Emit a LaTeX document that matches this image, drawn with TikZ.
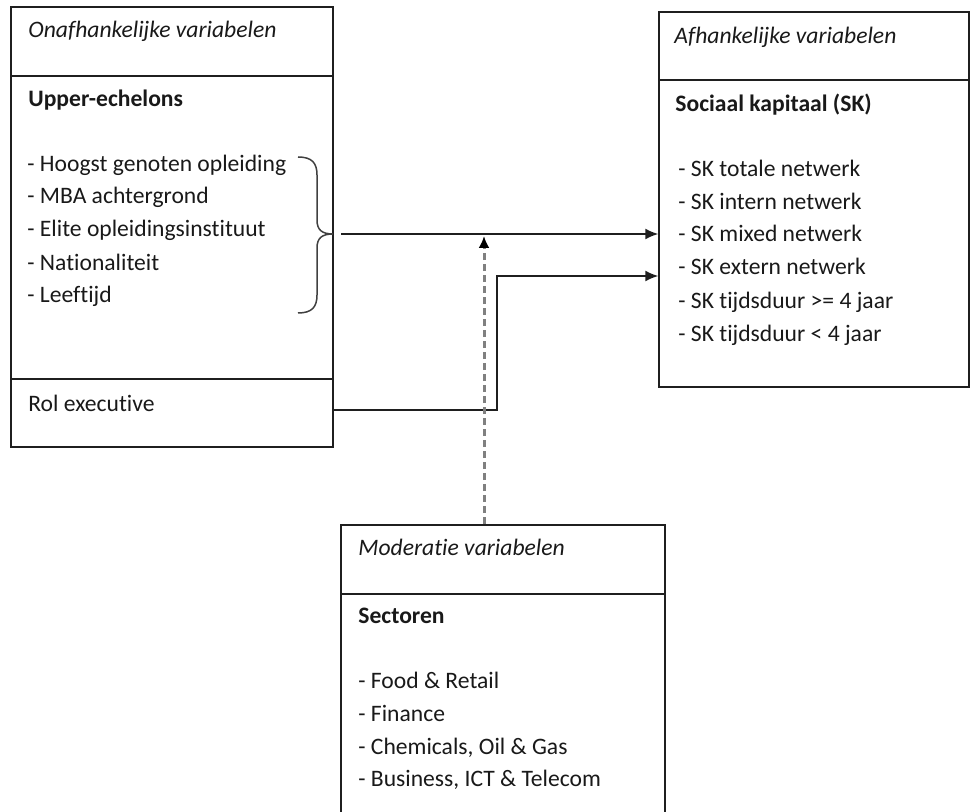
\documentclass[tikz,border=0pt]{standalone}
\usepackage{fontspec}
\setmainfont[Ligatures=NoCommon]{Carlito}
\usetikzlibrary{arrows.meta}

\begin{document}
\begin{tikzpicture}[x=0.5pt,y=-0.5pt,>={Latex[length=6.5pt,width=5.5pt]},
  font=\fontsize{11.8}{14}\selectfont,
  box/.style={draw=black!88,line width=0.75pt,rectangle,inner sep=0pt},
  rule/.style={draw=black!88,line width=0.75pt},
  txt/.style={anchor=base west,inner sep=0pt,text=black!90},
  link/.style={->,draw=black!88,line width=0.75pt}]
  \clip (0,0) rectangle (971,812);

  % the three boxes
  \node (ona) at (172,227) [box,minimum width=161pt,minimum height=220pt] {};
  \node (afh) at (814,199.5) [box,minimum width=155pt,minimum height=187.5pt] {};
  \node (mod) at (503,677.5) [box,minimum width=162pt,minimum height=152.5pt] {};
  \draw[rule] (ona.west |- 0,76) -- (ona.east |- 0,76);
  \draw[rule] (ona.west |- 0,379) -- (ona.east |- 0,379);
  \draw[rule] (afh.west |- 0,80) -- (afh.east |- 0,80);
  \draw[rule] (mod.west |- 0,594) -- (mod.east |- 0,594);

  \node (onah) at (28,38) [txt] {\itshape Onafhankelijke variabelen};
  \node (upper) at (28,107) [txt] {\bfseries Upper-echelons};
  \node (opl) at (27,172) [txt] {- Hoogst genoten opleiding};
  \node (mba) at (27,204) [txt] {- MBA achtergrond};
  \node (elite) at (27,237) [txt] {- Elite opleidingsinstituut};
  \node (nat) at (27,271) [txt] {- Nationaliteit};
  \node (lft) at (27,303) [txt] {- Leeftijd};
  \node (rol) at (28,412) [txt] {Rol executive};

  \node (afhh) at (674,44) [txt] {\itshape Afhankelijke variabelen};
  \node (sk) at (675,112) [txt] {\bfseries Sociaal kapitaal (SK)};
  \node (sktot) at (678,177) [txt] {- SK totale netwerk};
  \node (skint) at (678,210) [txt] {- SK intern netwerk};
  \node (skmix) at (678,242) [txt] {- SK mixed netwerk};
  \node (skext) at (678,275) [txt] {- SK extern netwerk};
  \node (sklang) at (678,309) [txt] {- SK tijdsduur >= 4 jaar};
  \node (skkort) at (678,342) [txt] {- SK tijdsduur < 4 jaar};

  \node (modh) at (358,556) [txt] {\itshape Moderatie variabelen};
  \node (sect) at (358,624) [txt] {\bfseries Sectoren};
  \node (food) at (358,689) [txt] {- Food \& Retail};
  \node (fin) at (358,722) [txt] {- Finance};
  \node (chem) at (358,755) [txt] {- Chemicals, Oil \& Gas};
  \node (ict) at (358,787) [txt] {- Business, ICT \& Telecom};

  % brace round the upper-echelons list
  \draw[black!75,line width=0.75pt] (298,157) .. controls (312,157) and (317,163) .. (317,175)
    -- (317,220) .. controls (317,230) and (322,234) .. (333,234)
    .. controls (322,234) and (317,238) .. (317,248)
    -- (317,295) .. controls (317,307) and (312,313) .. (298,313);

  \coordinate (bt) at (341,234);
  \coordinate (rolout) at (ona.east |- 0,410);
  \coordinate (bend) at (497,276);
  \coordinate (modtop) at (mod.north -| 484,0);
  \coordinate (modtip) at (484,236);

  \draw[link] (bt) -- (afh.west |- bt);
  \draw[link] (rolout) -| (bend) -- (afh.west |- bend);
  \draw[black!50,line width=1.5pt,dash pattern=on 3.5pt off 2pt,-{Latex[length=6pt,width=5.5pt,black,sep=0pt]}] (modtop) -- (modtip);
\end{tikzpicture}
\end{document}
